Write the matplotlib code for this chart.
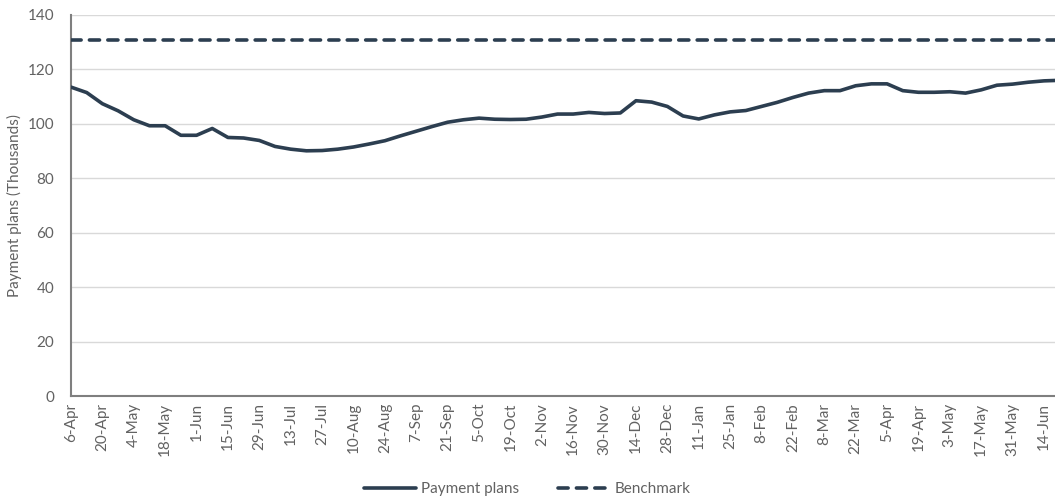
import matplotlib
matplotlib.use("Agg")
import matplotlib.pyplot as plt
import pandas as pd

# Weekly observations, Monday 6 April 2020 onwards
weeks = pd.date_range("2020-04-06", periods=64, freq="7D")

payment_plans = [
    113.5, 111.5, 107.4, 104.8, 101.5, 99.3, 99.3, 95.8, 95.8, 98.3,
    95.0, 94.8, 93.9, 91.7, 90.7, 90.1, 90.2, 90.7, 91.5, 92.6,
    93.8, 95.6, 97.3, 99.0, 100.6, 101.5, 102.1, 101.7, 101.6, 101.7,
    102.5, 103.6, 103.6, 104.2, 103.8, 104.0, 108.5, 108.0, 106.4, 102.9,
    101.8, 103.3, 104.4, 104.9, 106.4, 107.9, 109.7, 111.3, 112.2, 112.2,
    114.0, 114.7, 114.7, 112.2, 111.6, 111.6, 111.8, 111.3, 112.5, 114.2,
    114.6, 115.3, 115.8, 116.0,
]
benchmark = [130.8] * len(weeks)

y_ticks = [0, 20, 40, 60, 80, 100, 120, 140]
y_label = "Payment plans (Thousands)"

navy = "#2c3e50"
grey_text = "#626262"

plt.rcParams["font.family"] = ["Lato", "DejaVu Sans"]

fig = plt.figure(figsize=(10.55, 5.0), dpi=100)
ax = fig.add_axes([71 / 1055, 1 - 396 / 500, 1 - 71 / 1055, (396 - 15) / 500])

x = list(range(len(weeks)))
ax.plot(x, payment_plans, color=navy, lw=2.6, solid_capstyle="round",
        solid_joinstyle="round", label="Payment plans", zorder=3)
ax.plot(x, benchmark, color=navy, lw=2.6, dashes=(2.8, 2.3),
        dash_capstyle="round", label="Benchmark", zorder=3)

ax.set_xlim(0, 62.7)
ax.set_ylim(0, 140)
ax.set_yticks(y_ticks)
ax.yaxis.grid(True, color="#d9d9d9", lw=1.0)
ax.set_axisbelow(True)

tick_pos = x[0:63:2]
tick_lab = [f"{d.day}-{d.strftime('%b')}" for d in weeks[0:63:2]]
ax.set_xticks(tick_pos)
ax.set_xticklabels(tick_lab, rotation=90)
ax.tick_params(axis="both", length=0, labelsize=11, labelcolor=grey_text)
ax.tick_params(axis="x", pad=5)
ax.tick_params(axis="y", pad=12)

for side in ("top", "right"):
    ax.spines[side].set_visible(False)
for side in ("left", "bottom"):
    ax.spines[side].set_color("#7f7f7f")
    ax.spines[side].set_linewidth(1.5)

ax.set_ylabel(y_label, fontsize=11, color=grey_text, labelpad=4)

handles, labels = ax.get_legend_handles_labels()
fig.legend(handles, labels, loc="center", bbox_to_anchor=(0.5, 1 - 489 / 500),
           ncol=2, frameon=False, fontsize=11, labelcolor=grey_text,
           handlelength=3.4, handletextpad=0.3, columnspacing=2.6)

fig.savefig("out.png", dpi=100)
